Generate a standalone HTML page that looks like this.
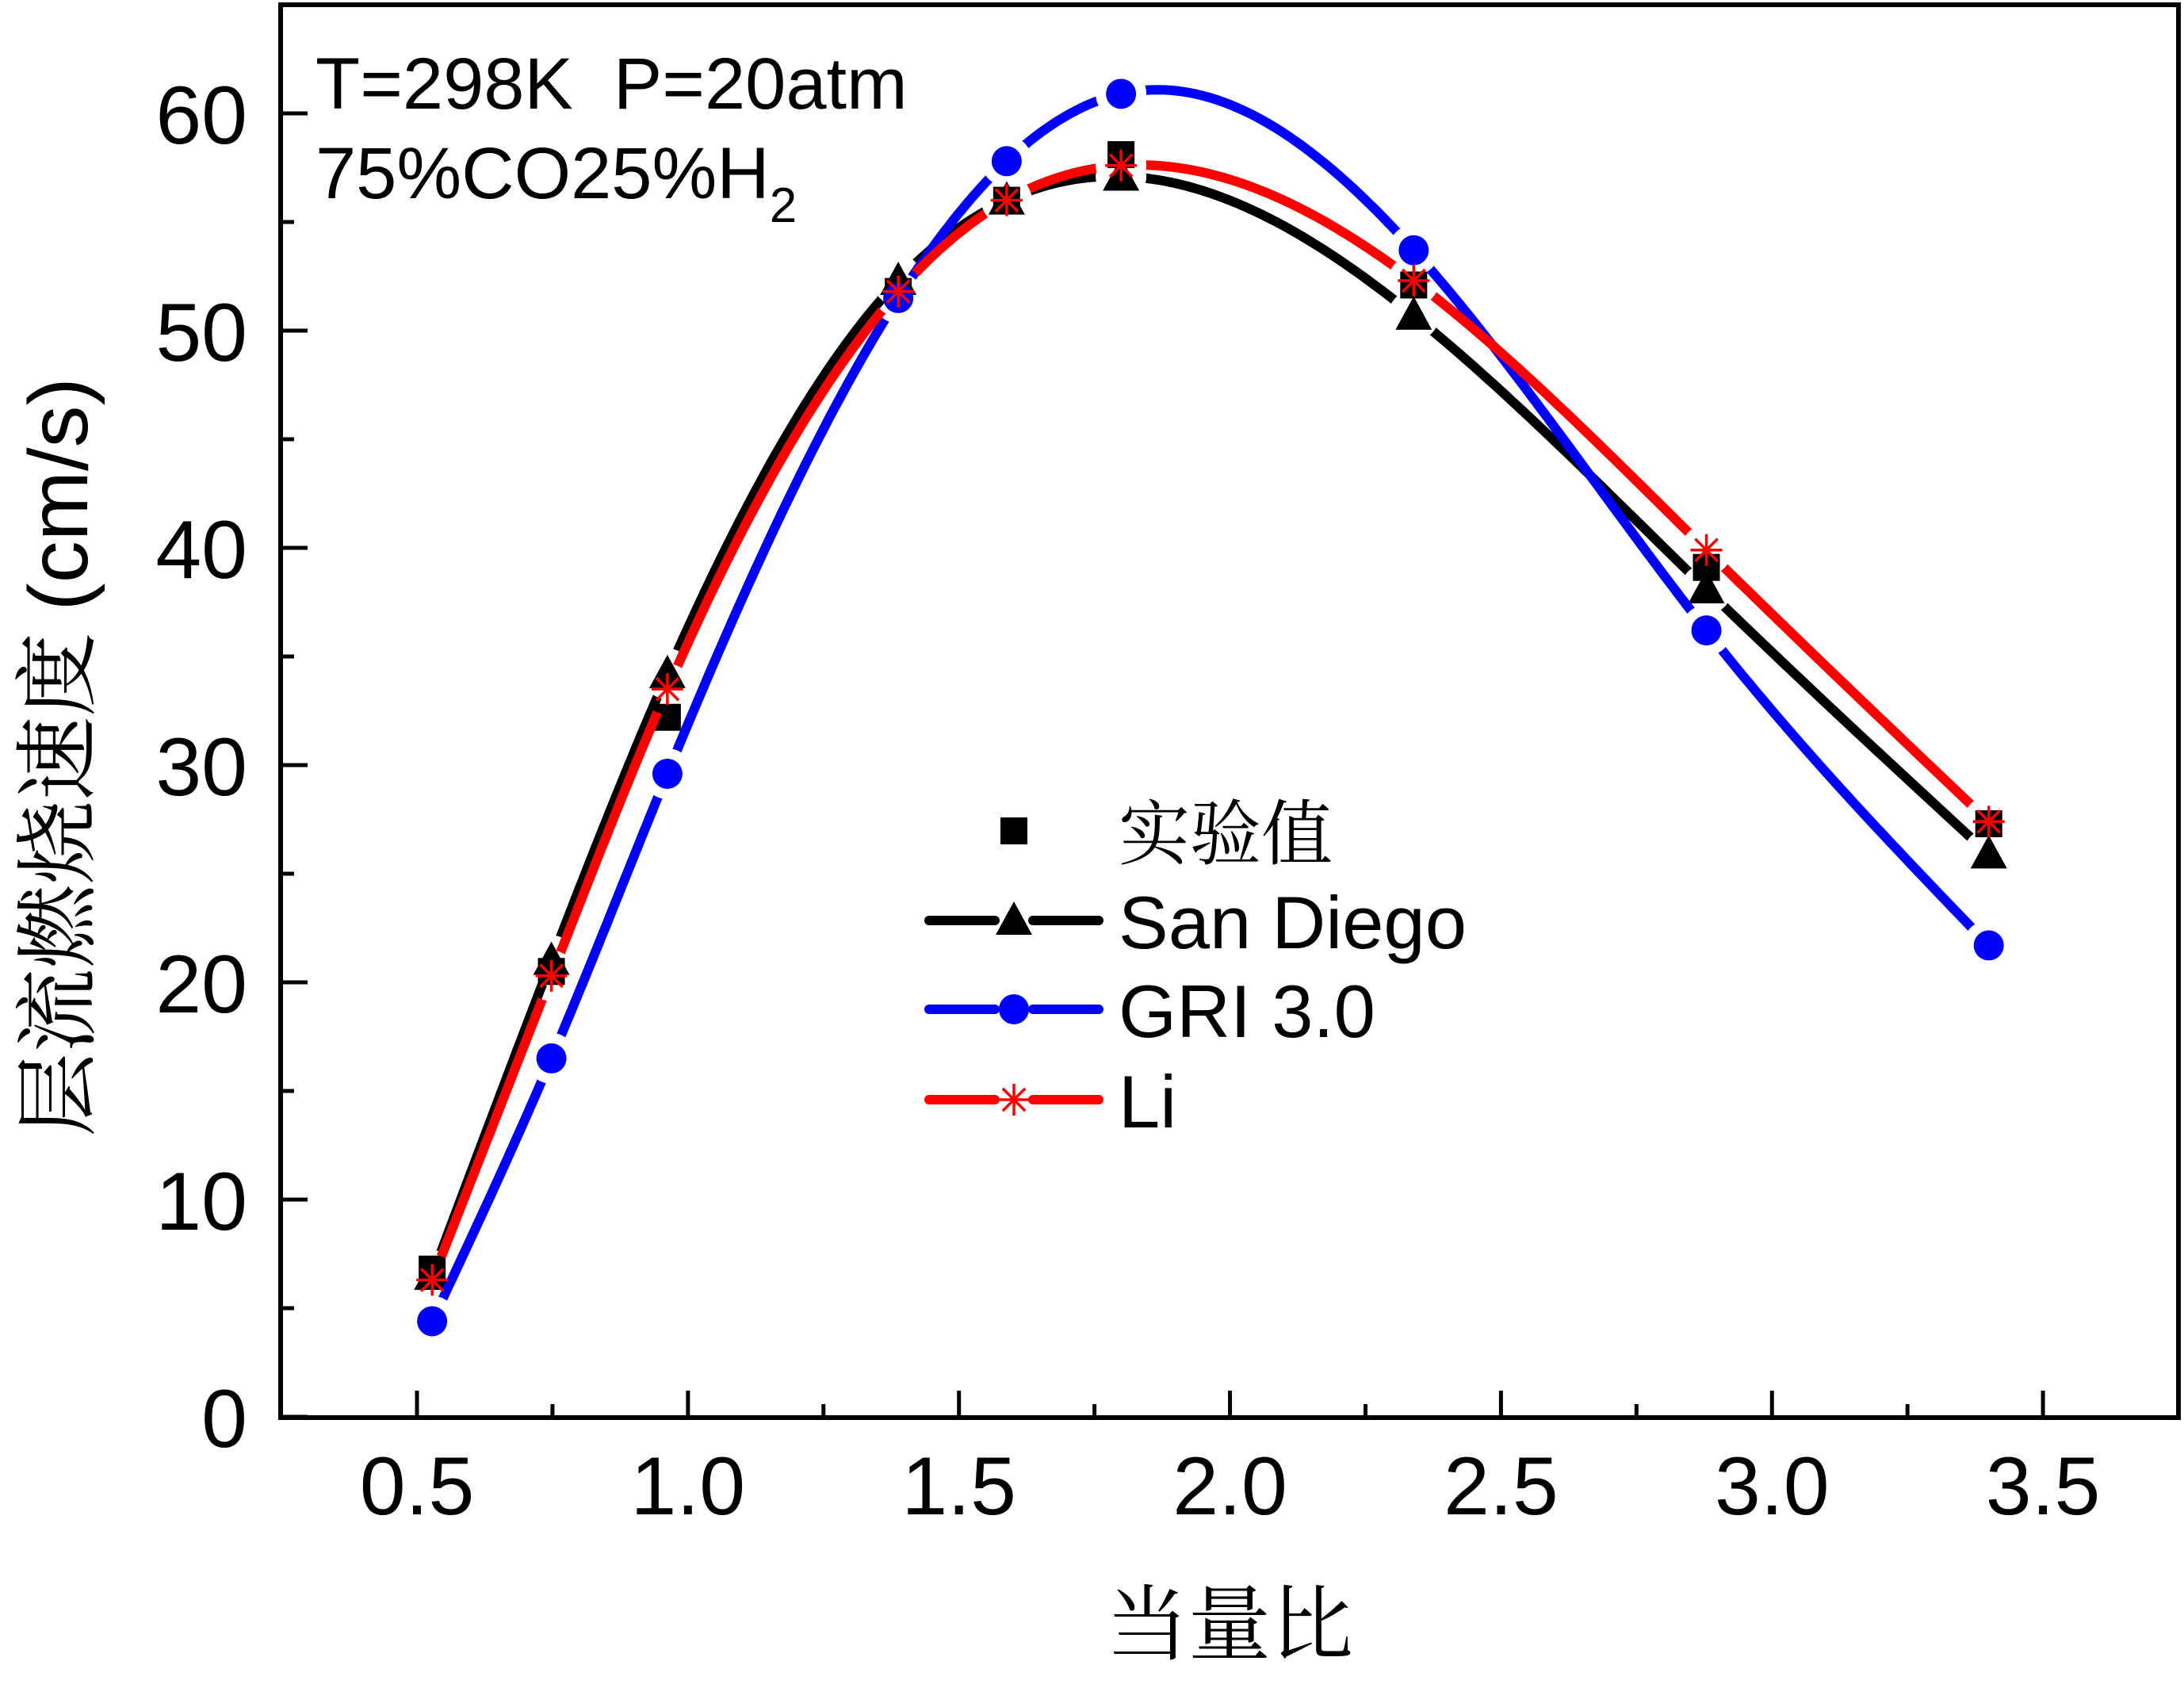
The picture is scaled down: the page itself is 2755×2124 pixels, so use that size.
<!DOCTYPE html>
<html><head><meta charset="utf-8"><style>
html,body{margin:0;padding:0;background:#fff;}
svg{display:block;}
text{font-family:"Liberation Sans","Noto Sans CJK SC",sans-serif;fill:#000;}
.cn{font-family:"Noto Serif CJK SC","Noto Sans CJK SC",serif;}
</style></head><body>
<svg id="s" width="2755" height="2124" viewBox="0 0 2755 2124" xmlns="http://www.w3.org/2000/svg">
<rect width="2755" height="2124" fill="#fff"/>
<g id="axes"></g>
<g id="plot"></g>
<text x="398" y="137" font-size="92">T=298K&#160; P=20atm</text>
<text x="398" y="250" font-size="92">75%CO25%H<tspan font-size="62" dy="30">2</tspan></text>
<text class="cn" x="1551" y="2085" font-size="104" text-anchor="middle">当量比</text>
<text class="cn" transform="translate(110,955) rotate(-90)" font-size="106" text-anchor="middle">层流燃烧速度 <tspan font-family="Liberation Sans">(cm/s)</tspan></text>
<text class="cn" x="1411" y="1083" font-size="90">实验值</text>
<text x="1411" y="1196" font-size="94">San Diego</text>
<text x="1411" y="1308" font-size="94">GRI 3.0</text>
<text x="1411" y="1422" font-size="94">Li</text>
</svg>
<script>
var NS="http://www.w3.org/2000/svg";
function el(t,a,p){var e=document.createElementNS(NS,t);for(var k in a)e.setAttribute(k,a[k]);(p||document.getElementById('plot')).appendChild(e);return e;}
function X(v){return 526+(v-0.5)*683.7;}
function Y(v){return 1787-v*27.4;}
var ax=document.getElementById('axes');
el('rect',{x:354,y:6,width:2394,height:1782,fill:'none',stroke:'#000','stroke-width':6},ax);
for(var i=0;i<=13;i++){var v=0.25+i*0.25;var x=X(v);if(x<360||x>2742)continue;var maj=(Math.round(v*100)%50===0);
el('line',{x1:x,y1:1788,x2:x,y2:1788-(maj?34:17),stroke:'#000','stroke-width':5},ax);
if(maj){var t=el('text',{x:x,y:1910,'font-size':104,'text-anchor':'middle'},ax);t.textContent=v.toFixed(1);}}
for(var v=0;v<=65;v+=5){var y=Y(v);var maj=v%10===0;
el('line',{x1:354,y1:y,x2:354+(maj?34:17),y2:y,stroke:'#000','stroke-width':5},ax);
if(maj){var t=el('text',{x:312,y:y+38,'font-size':104,'text-anchor':'end'},ax);t.textContent=v;}}
var xs=[0.528,0.748,0.962,1.388,1.588,1.799,2.339,2.879,3.40];
var exp=[6.8,20.5,32.2,51.8,56,58.1,52.1,39.1,27.3];
var sd=[6.5,21,34.2,52.3,56,57.1,50.7,38.1,25.9];
var gri=[4.4,16.5,29.6,51.5,57.8,60.9,53.7,36.2,21.7];
var li=[6.3,20.3,33.5,51.8,56,57.6,52.3,39.9,27.4];
function spline(x,y){var n=x.length,h=[],a=[],l=[1],mu=[0],z=[0],c=new Array(n).fill(0),b=[],d=[];
for(var i=0;i<n-1;i++)h[i]=x[i+1]-x[i];
for(var i=1;i<n-1;i++)a[i]=3/h[i]*(y[i+1]-y[i])-3/h[i-1]*(y[i]-y[i-1]);
for(var i=1;i<n-1;i++){l[i]=2*(x[i+1]-x[i-1])-h[i-1]*mu[i-1];mu[i]=h[i]/l[i];z[i]=(a[i]-h[i-1]*z[i-1])/l[i];}
l[n-1]=1;z[n-1]=0;c[n-1]=0;
for(var j=n-2;j>=0;j--){c[j]=z[j]-mu[j]*c[j+1];b[j]=(y[j+1]-y[j])/h[j]-h[j]*(c[j+1]+2*c[j])/3;d[j]=(c[j+1]-c[j])/(3*h[j]);}
var pts=[];for(var i=0;i<n-1;i++){for(var k=0;k<40;k++){var t=h[i]*k/40;pts.push([X(x[i]+t),Y(y[i]+b[i]*t+c[i]*t*t+d[i]*t*t*t)]);}}
pts.push([X(x[n-1]),Y(y[n-1])]);return pts;}
var defs=el('defs',{});
function series(id,ys,color,marker){
var m=el('mask',{id:id,maskUnits:'userSpaceOnUse',x:0,y:0,width:2755,height:2124},defs);
el('rect',{x:0,y:0,width:2755,height:2124,fill:'#fff'},m);
for(var i=0;i<xs.length;i++)el('circle',{cx:X(xs[i]),cy:Y(ys[i]),r:32,fill:'#000'},m);
var p=spline(xs,ys);var d='M'+p.map(function(q){return q[0].toFixed(1)+','+q[1].toFixed(1);}).join('L');
el('path',{d:d,fill:'none',stroke:color,'stroke-width':12,'stroke-linecap':'round','stroke-linejoin':'round',mask:'url(#'+id+')'});
for(var i=0;i<xs.length;i++)marker(X(xs[i]),Y(ys[i]));}
function sq(x,y){el('rect',{x:x-17,y:y-17,width:34,height:34,fill:'#000'});}
function tri(x,y){el('path',{d:'M'+x+','+(y-24)+'L'+(x+23)+','+(y+18)+'L'+(x-23)+','+(y+18)+'Z',fill:'#000'});}
function cir(x,y){el('circle',{cx:x,cy:y,r:19,fill:'#0000ff'});}
function star(x,y){var r=20;for(var k=0;k<4;k++){var a=k*Math.PI/4;el('line',{x1:x-r*Math.cos(a),y1:y-r*Math.sin(a),x2:x+r*Math.cos(a),y2:y+r*Math.sin(a),stroke:'#ff0000','stroke-width':3.5});}}
for(var i=0;i<xs.length;i++)sq(X(xs[i]),Y(exp[i]));
series('m1',sd,'#000',tri);
series('m2',gri,'#0000ff',cir);
series('m3',li,'#ff0000',star);
sq(1279,1048);
function lg(y,c,mk){el('line',{x1:1172,y1:y,x2:1255,y2:y,stroke:c,'stroke-width':12,'stroke-linecap':'round'});el('line',{x1:1303,y1:y,x2:1386,y2:y,stroke:c,'stroke-width':12,'stroke-linecap':'round'});mk(1279,y);}
lg(1161,'#000',tri);lg(1273,'#0000ff',cir);lg(1387,'#ff0000',star);
</script>
</body></html>
